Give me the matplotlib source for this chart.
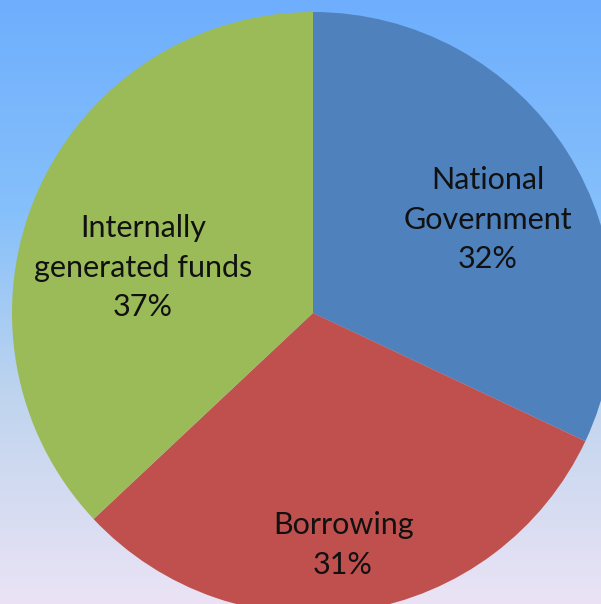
import numpy as np
import matplotlib
matplotlib.use("Agg")
import matplotlib.pyplot as plt
from matplotlib.colors import LinearSegmentedColormap

# ── Dados ─────────────────────────────────────────────────────────────────────
labels = ["National\nGovernment", "Borrowing", "Internally\ngenerated funds"]
shares = [32, 31, 37]
colors = ["#4f81bd", "#c0504d", "#9bbb59"]

# posição dos rótulos (unidades de raio, centro da pizza = 0,0)
label_pos = [(0.58, 0.31), (0.10, -0.77), (-0.565, 0.15)]

# ── Figura ────────────────────────────────────────────────────────────────────
W, H, DPI = 601, 604, 100
CX, CY, R = 313, 313, 301  # centro e raio em pixels

fig = plt.figure(figsize=(W / DPI, H / DPI), dpi=DPI)

# fundo degradê (azul em cima, lilás claro em baixo)
bg = fig.add_axes([0, 0, 1, 1])
bg.axis("off")
cmap = LinearSegmentedColormap.from_list(
    "bg", [(0.0, "#6eaefd"), (0.35, "#86c0fb"), (0.65, "#bed4ee"), (1.0, "#ebe3f5")])
grad = np.linspace(0, 1, 256).reshape(-1, 1)
bg.imshow(grad, cmap=cmap, aspect="auto", extent=[0, 1, 0, 1], origin="upper")
bg.set_xlim(0, 1)
bg.set_ylim(0, 1)

ax = fig.add_axes([0, 0, 1, 1])
ax.set_facecolor("none")
ax.axis("off")

ax.pie(shares, colors=colors, startangle=90, counterclock=False, radius=1,
       wedgeprops=dict(linewidth=0))

for txt, pct, (x, y) in zip(labels, shares, label_pos):
    ax.text(x, y, f"{txt}\n{pct}%", ha="center", va="center", fontsize=22,
            family="Lato", color="#111111", linespacing=1.5)

ax.set_xlim(-CX / R, (W - CX) / R)
ax.set_ylim(-(H - CY) / R, CY / R)
ax.set_aspect("auto")

fig.savefig("out.png", dpi=DPI)
